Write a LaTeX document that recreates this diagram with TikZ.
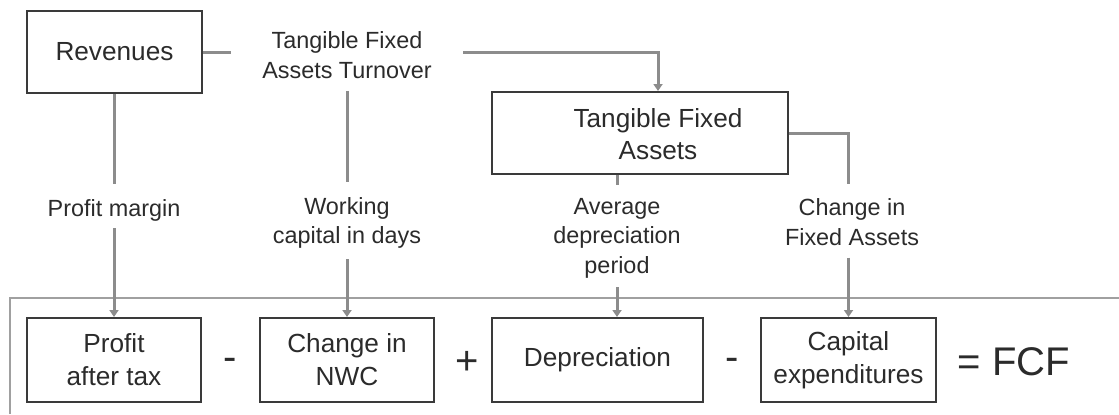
\documentclass[tikz,border=0pt]{standalone}
\usepackage{fontspec}
\setmainfont{Liberation Sans}
\usetikzlibrary{arrows.meta}
\definecolor{txt}{HTML}{2B2B2B}
\definecolor{boxc}{HTML}{3A3A3A}
\definecolor{conc}{HTML}{8C8C8C}
\definecolor{framec}{HTML}{A0A0A0}
\tikzset{
  box/.style={draw=boxc, line width=1pt, inner sep=0pt, text=txt, align=center,
    font=\fontsize{13.1}{16.5}\selectfont},
  lbl/.style={inner sep=0pt, text=txt, align=center, font=\fontsize{11.7}{14.7}\selectfont},
  conn/.style={draw=conc, line width=1.5pt},
  arr/.style={conn, -{Triangle[width=4.5pt,length=3.5pt]}},
  sign/.style={inner sep=0pt, text=txt, font=\fontsize{20}{24}\selectfont},
  frameline/.style={draw=framec, line width=0.8pt}
}
\begin{document}
\begin{tikzpicture}[x=0.5pt,y=-0.5pt]
\useasboundingbox (0,0) rectangle (1119,414);
% frame
\coordinate (fa) at (10,414);
\coordinate (fb) at (10,298);
\coordinate (fc) at (1119,298);
\draw[frameline] (fa) -- (fb) -- (fc);
% top nodes
\node[box, minimum width=87.5pt, minimum height=41pt] (rev) at (114.5,52) {Revenues};
\node[box, minimum width=148pt, minimum height=41pt] (tfa) at (640,133) {};
\node[lbl, font=\fontsize{13.1}{16}\selectfont] (tfatext) at (658,134) {Tangible Fixed\\Assets};
% connector Revenues -> TFA (behind turnover label)
\draw[arr] (rev.east) -| (tfatext.north |- tfa.north);
\node[lbl, fill=white, inner xsep=15.5pt, font=\fontsize{11.7}{15}\selectfont] (tfat) at (347,55) {Tangible Fixed\\Assets Turnover};
% labels
\node[lbl] (pm) at (114,210) {Profit margin};
\node[lbl] (wc) at (347,223) {Working\\capital in days};
\node[lbl] (av) at (617,238) {Average\\depreciation\\period};
\node[lbl] (cf) at (852,222) {Change in\\Fixed Assets};
% bottom boxes
\node[box, minimum width=87pt, minimum height=42pt] (pat) at (114,360) {Profit\\after tax};
\node[box, minimum width=87pt, minimum height=42pt] (nwc) at (347,360) {Change in\\NWC};
\node[box, minimum width=105.5pt, minimum height=42pt] (dep) at (597.5,360) {Depreciation};
\node[box, minimum width=87.5pt, minimum height=42pt] (capex) at (848.5,360) {Capital\\expenditures};
% signs
\node[sign] (s1) at (230,364) {-};
\node[sign] (s2) at (467,363) {+};
\node[sign] (s3) at (732,364) {-};
\node[sign] (fcf) at (1014,362) {= FCF};
% connectors
\draw[conn, shorten >=7.5pt] (rev.south -| pm.north) -- (pm.north);
\draw[arr, shorten <=3.5pt] (pm.south) -- (pat.north);
\draw[conn, shorten <=6pt, shorten >=7.5pt] (tfat.south) -- (wc.north);
\draw[arr, shorten <=5pt] (wc.south) -- (nwc.north);
\draw[conn, shorten >=6.5pt] (av.north |- tfa.south) -- (av.north);
\draw[arr, shorten <=4.5pt] (av.south) -- (av.south |- dep.north);
\draw[conn, shorten >=7pt] (tfa.east) -| (capex.north |- cf.north);
\draw[arr, shorten <=6pt] (capex.north |- cf.south) -- (capex.north);
\end{tikzpicture}
\end{document}
